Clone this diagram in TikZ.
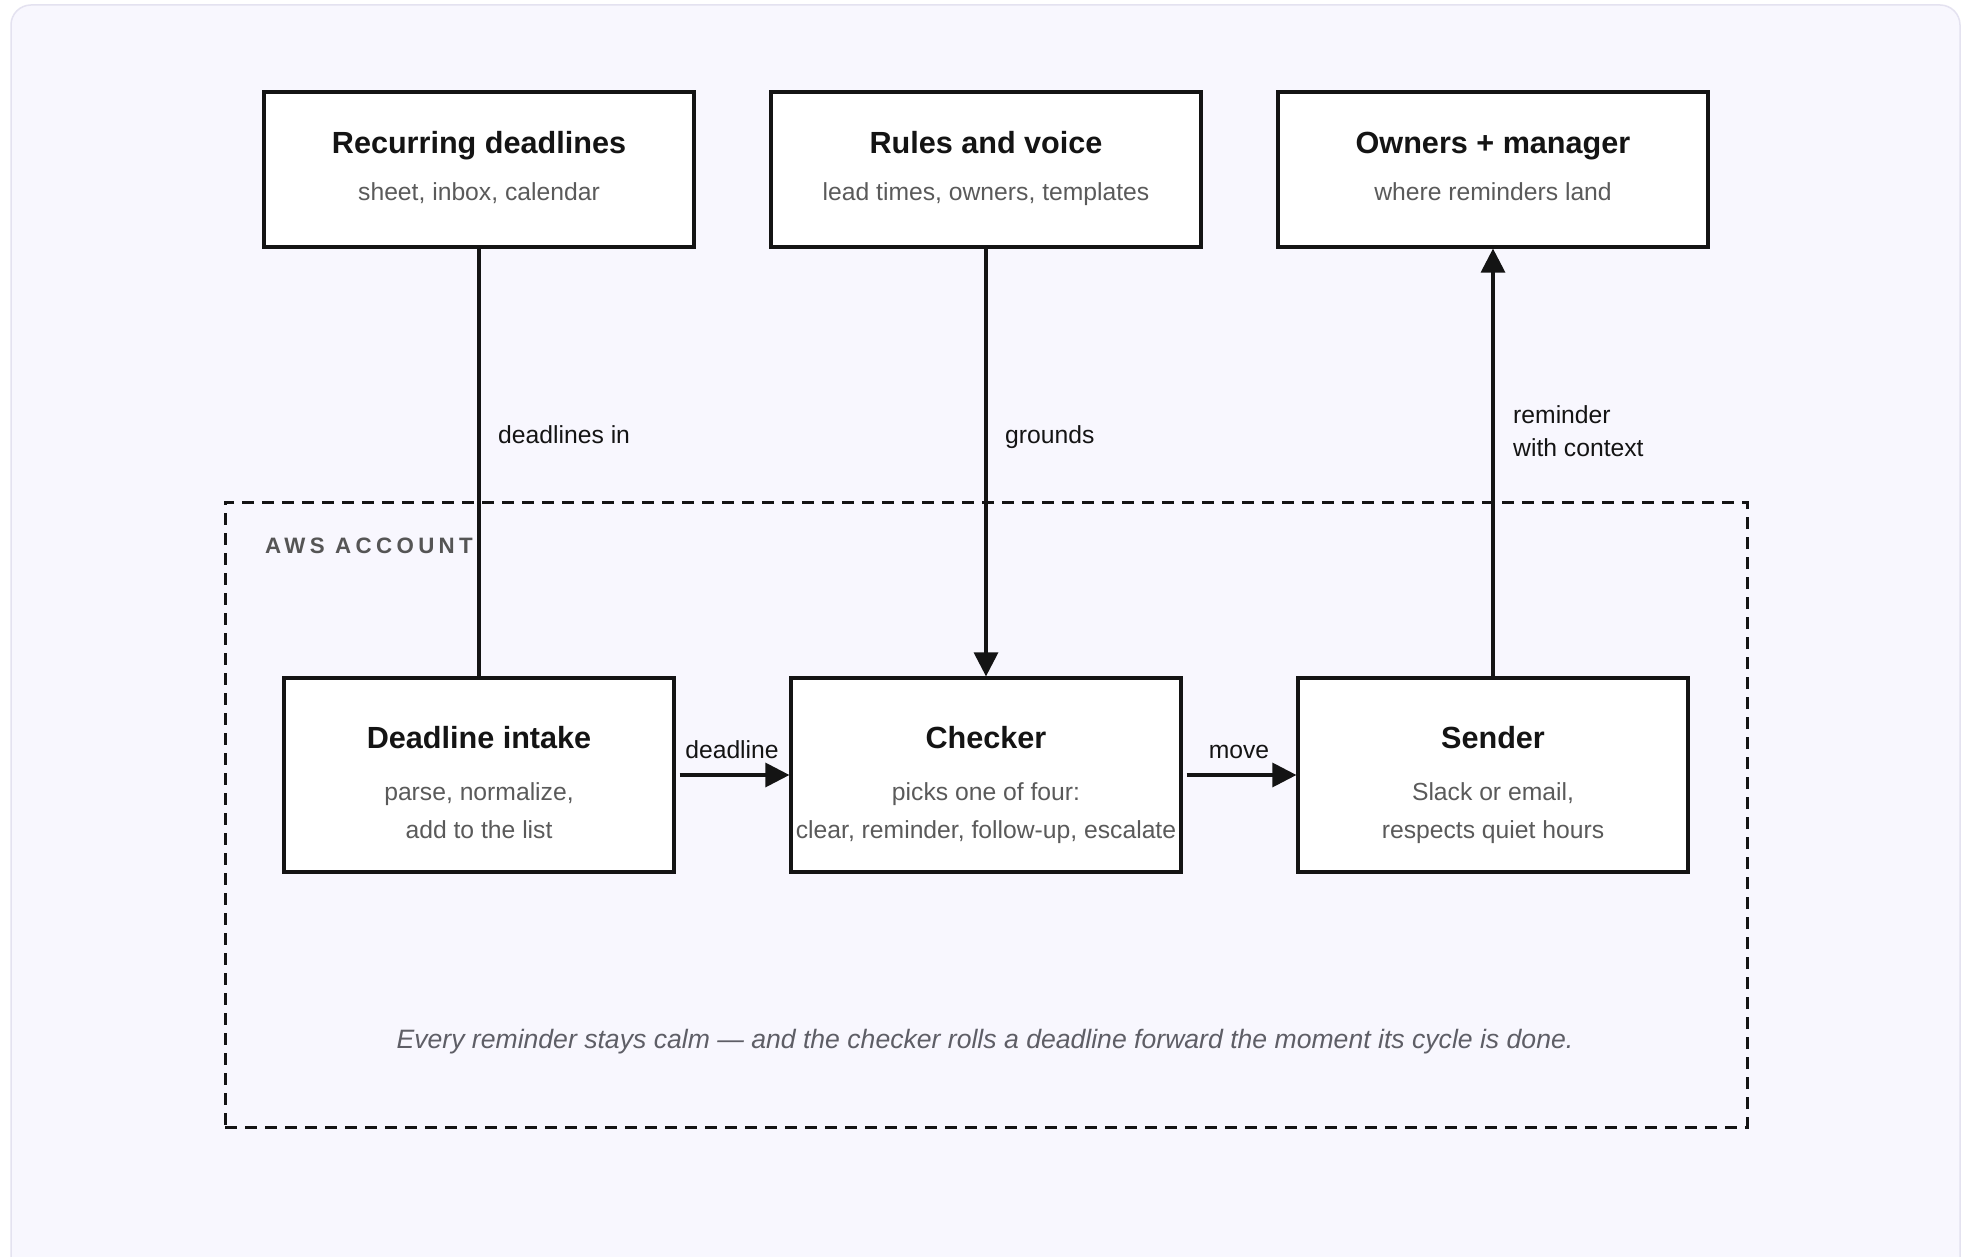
\documentclass[tikz,border=0pt]{standalone}
\usepackage{fontspec}
\setmainfont{Liberation Sans}
\newfontfamily\capsfont[LetterSpace=19.5]{Liberation Sans}
\usetikzlibrary{arrows.meta}

\definecolor{ink}{HTML}{141414}
\definecolor{subtext}{HTML}{5A5A5A}
\definecolor{cardfill}{HTML}{F8F7FE}
\definecolor{cardline}{HTML}{E4E2F0}
\definecolor{tag}{HTML}{555555}
\definecolor{note}{HTML}{5E5E66}

\tikzset{
  box/.style={draw=ink, line width=3.2pt, fill=white, inner sep=0pt},
  topbox/.style={box, minimum width=430pt, minimum height=155pt},
  lowbox/.style={box, minimum width=390pt, minimum height=194pt},
  title/.style={anchor=base, text=ink, inner sep=0pt,
    font=\fontsize{30.6}{36}\selectfont\bfseries},
  sub/.style={anchor=base, text=subtext, inner sep=0pt,
    font=\fontsize{24.7}{30}\selectfont},
  flow/.style={draw=ink, line width=3.2pt},
  arrowed/.style={flow, -{Triangle[length=24pt,width=24pt]}},
  edgelabel/.style={text=ink, inner sep=0pt, font=\fontsize{24.7}{30}\selectfont},
  region/.style={draw=ink, line width=3pt, dash pattern=on 12pt off 8pt,
    inner sep=0pt, minimum width=1522pt, minimum height=625pt},
  regiontag/.style={anchor=base west, text=tag, inner sep=0pt,
    font=\capsfont\bfseries\fontsize{22.3}{26}\selectfont},
  footnote/.style={anchor=base, text=note, inner sep=0pt,
    font=\fontsize{26.6}{32}\selectfont\itshape},
}

\begin{document}
\begin{tikzpicture}[x=1pt,y=-1pt]
\useasboundingbox (0,0) rectangle (1968,1257);
\clip (0,0) rectangle (1968,1257);
\fill[white] (0,0) rectangle (1968,1257);
% card behind everything
\draw[cardline, fill=cardfill, line width=1.5pt, rounded corners=20pt]
  (11,5) rectangle (1960,1320);

% account boundary
\node[region] (aws) at (986,814.5) {};
\node[regiontag] (awstag) at (265,553) {AWS ACCOUNT};

% outside systems
\node[topbox] (recurring) at (479,169.5) {};
\node[topbox] (rules)     at (986,169.5) {};
\node[topbox] (owners)    at (1493,169.5) {};

\node[title] (recurring-t) at (479,154) {Recurring deadlines};
\node[sub]   (recurring-s) at (479,201) {sheet, inbox, calendar};
\node[title] (rules-t) at (986,154) {Rules and voice};
\node[sub]   (rules-s) at (986,201) {lead times, owners, templates};
\node[title] (owners-t) at (1493,154) {Owners + manager};
\node[sub]   (owners-s) at (1493,201) {where reminders land};

% services in the account
\node[lowbox] (intake)  at (479,775) {};
\node[lowbox] (checker) at (986,775) {};
\node[lowbox] (sender)  at (1493,775) {};

\node[title] (intake-t) at (479,748) {Deadline intake};
\node[sub]   (intake-s1) at (479,800) {parse, normalize,};
\node[sub]   (intake-s2) at (479,838) {add to the list};
\node[title] (checker-t) at (986,748) {Checker};
\node[sub]   (checker-s1) at (986,800) {picks one of four:};
\node[sub]   (checker-s2) at (986,838) {clear, reminder, follow-up, escalate};
\node[title] (sender-t) at (1493,748) {Sender};
\node[sub]   (sender-s1) at (1493,800) {Slack or email,};
\node[sub]   (sender-s2) at (1493,838) {respects quiet hours};

% connectors
\draw[flow] (recurring.south) -- (intake.north);
\draw[arrowed] (rules.south) -- (checker.north);
\draw[arrowed] (sender.north) -- (owners.south);
\draw[arrowed] ([xshift=4pt]intake.east) -- (checker.west);
\draw[arrowed] ([xshift=4pt]checker.east) -- (sender.west);

% connector labels
\node[edgelabel, anchor=base west] (lbl-in) at (498,443) {deadlines in};
\node[edgelabel, anchor=base west] (lbl-grounds) at (1005,443) {grounds};
\node[edgelabel, anchor=base west] (lbl-rem1) at (1513,423) {reminder};
\node[edgelabel, anchor=base west] (lbl-rem2) at (1513,456.5) {with context};
\node[edgelabel, anchor=base] (lbl-deadline) at (732,758) {deadline};
\node[edgelabel, anchor=base] (lbl-move) at (1239,758) {move};

% closing note
\node[footnote] (note) at (985,1048) {Every reminder stays calm — and the checker rolls a deadline forward the moment its cycle is done.};
\end{tikzpicture}
\end{document}
